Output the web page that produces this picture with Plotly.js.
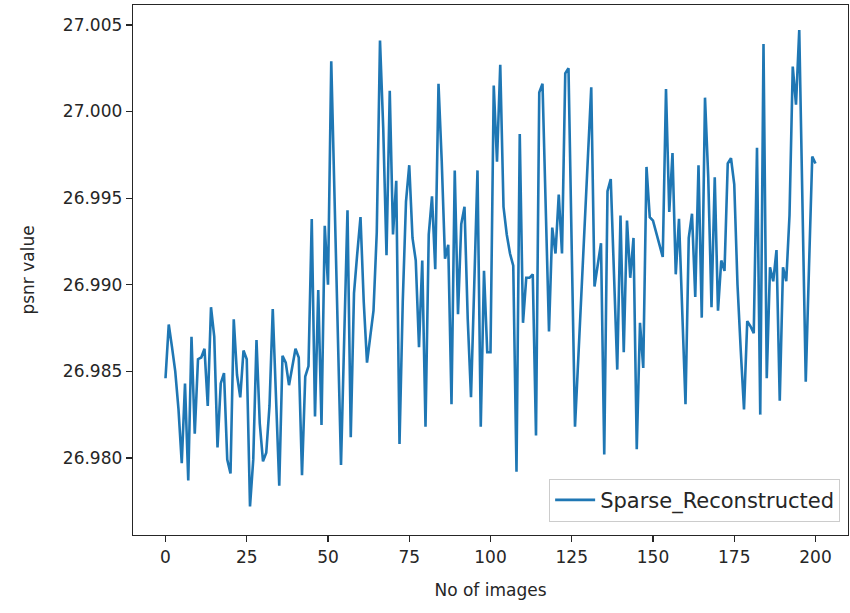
<!DOCTYPE html>
<html>
<head>
<meta charset="utf-8">
<script src="https://cdn.plot.ly/plotly-3.0.1.min.js"></script>
<style>
  html, body { margin: 0; padding: 0; background: #ffffff; }
  #chart { width: 850px; height: 613px; }
</style>
</head>
<body>
<div id="chart"></div>
<script>
// Series name
const seriesName = "Sparse_Reconstructed";

// PSNR values per image index (0..200)
const psnrValues = [
  26.9846, 26.9877, 26.9864, 26.9850, 26.9828, 26.9797, 26.9843, 26.9787, 26.9870, 26.9814,
  26.9857, 26.9858, 26.9863, 26.9830, 26.9887, 26.9870, 26.9806, 26.9843, 26.9849, 26.9799,
  26.9791, 26.9880, 26.9848, 26.9835, 26.9862, 26.9857, 26.9772, 26.9799, 26.9868, 26.9820,
  26.9798, 26.9803, 26.9830, 26.9886, 26.9835, 26.9784, 26.9859, 26.9855, 26.9842, 26.9852,
  26.9863, 26.9858, 26.9790, 26.9847, 26.9853, 26.9938, 26.9824, 26.9897, 26.9819, 26.9934,
  26.9900, 27.0029, 26.9955, 26.9875, 26.9796, 26.9870, 26.9943, 26.9812, 26.9895, 26.9918,
  26.9939, 26.9890, 26.9855, 26.9870, 26.9885, 26.9930, 27.0041, 26.9990, 26.9917, 27.0012,
  26.9929, 26.9960, 26.9808, 26.9890, 26.9948, 26.9969, 26.9927, 26.9914, 26.9864, 26.9914,
  26.9818, 26.9929, 26.9951, 26.9909, 27.0016, 26.9971, 26.9915, 26.9923, 26.9831, 26.9966,
  26.9883, 26.9935, 26.9945, 26.9880, 26.9835, 26.9900, 26.9966, 26.9818, 26.9908, 26.9861,
  26.9861, 27.0015, 26.9971, 27.0027, 26.9945, 26.9929, 26.9918, 26.9911, 26.9792, 26.9987,
  26.9878, 26.9904, 26.9904, 26.9906, 26.9813, 27.0011, 27.0016, 26.9944, 26.9873, 26.9933,
  26.9918, 26.9952, 26.9918, 27.0022, 27.0025, 26.9920, 26.9818, 26.9857, 26.9896, 26.9935,
  26.9975, 27.0014, 26.9899, 26.9912, 26.9924, 26.9802, 26.9954, 26.9961, 26.9905, 26.9851,
  26.9940, 26.9861, 26.9937, 26.9904, 26.9927, 26.9805, 26.9878, 26.9852, 26.9968, 26.9939,
  26.9937, 26.9930, 26.9923, 26.9916, 27.0013, 26.9942, 26.9976, 26.9906, 26.9938, 26.9885,
  26.9831, 26.9927, 26.9941, 26.9893, 26.9969, 26.9881, 27.0008, 26.9962, 26.9887, 26.9962,
  26.9885, 26.9914, 26.9908, 26.9970, 26.9973, 26.9958, 26.9900, 26.9862, 26.9828, 26.9879,
  26.9876, 26.9872, 26.9979, 26.9825, 27.0039, 26.9846, 26.9910, 26.9902, 26.9920, 26.9833,
  26.9910, 26.9902, 26.9940, 27.0026, 27.0004, 27.0047, 26.9945, 26.9844, 26.9910, 26.9974,
  26.9970
];

// Image indices
const imageIndex = psnrValues.map((_, i) => i);

// Tick labels
const xTickVals = [0, 25, 50, 75, 100, 125, 150, 175, 200];
const yTickVals = [26.980, 26.985, 26.990, 26.995, 27.000, 27.005];
const yTickText = ["26.980", "26.985", "26.990", "26.995", "27.000", "27.005"];

const trace = {
  x: imageIndex,
  y: psnrValues,
  type: "scatter",
  mode: "lines",
  name: seriesName,
  line: { color: "#1f77b4", width: 2.6 },
  showlegend: true
};

const fontFam = "DejaVu Sans, sans-serif";

const layout = {
  width: 850,
  height: 613,
  paper_bgcolor: "#ffffff",
  plot_bgcolor: "#ffffff",
  margin: { l: 133, r: 2, t: 5, b: 78, pad: 0 },
  font: { family: fontFam, size: 17, color: "#262626" },
  showlegend: true,
  xaxis: {
    range: [-10, 210],
    tickvals: xTickVals,
    ticktext: xTickVals.map(String),
    ticks: "outside",
    ticklen: 6,
    tickwidth: 1.2,
    tickcolor: "#262626",
    showgrid: false,
    zeroline: false,
    showline: true,
    mirror: true,
    linecolor: "#262626",
    linewidth: 1.3,
    tickfont: { family: fontFam, size: 17, color: "#262626" },
    title: { text: "No of images", font: { family: fontFam, size: 17, color: "#262626" }, standoff: 18 },
    automargin: true
  },
  yaxis: {
    range: [26.97555, 27.00615],
    tickvals: yTickVals,
    ticktext: yTickText,
    ticks: "outside",
    ticklen: 6,
    tickwidth: 1.2,
    tickcolor: "#262626",
    showgrid: false,
    zeroline: false,
    showline: true,
    mirror: true,
    linecolor: "#262626",
    linewidth: 1.3,
    tickfont: { family: fontFam, size: 17, color: "#262626" },
    title: { text: "psnr value", font: { family: fontFam, size: 17, color: "#262626" }, standoff: 24 },
    automargin: true
  },
  legend: {
    x: 0.989,
    y: 0.025,
    xanchor: "right",
    yanchor: "bottom",
    bgcolor: "rgba(255,255,255,0.8)",
    bordercolor: "#cccccc",
    borderwidth: 1,
    itemwidth: 40,
    font: { family: fontFam, size: 21, color: "#262626" }
  }
};

Plotly.newPlot("chart", [trace], layout, { displayModeBar: false, staticPlot: true });
</script>
</body>
</html>
